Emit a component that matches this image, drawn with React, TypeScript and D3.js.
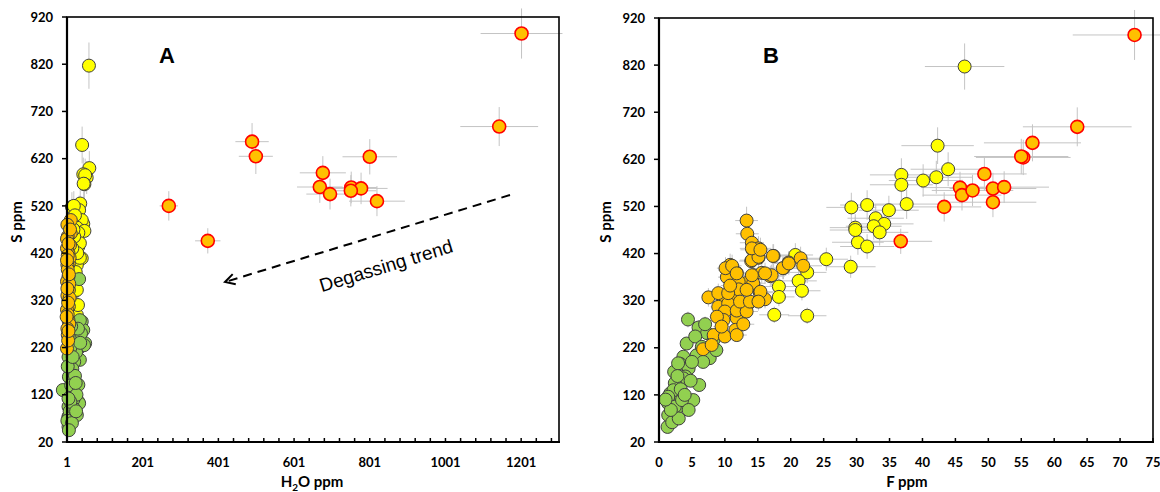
import React from "react";
import * as d3 from "d3";

// ---------- DATA ----------
// Panel A: [H2O ppm, S ppm]
const redA: [number, number][] = [
  [1202, 885], [1143, 688], [490, 656], [500, 625], [801, 624], [677, 590], [669, 560],
  [752, 559], [778, 557], [751, 552], [696, 545], [820, 530], [270, 520], [373, 446],
];
const yellowA: [number, number][] = [
  [59, 817], [41, 649], [60, 600], [44, 587], [53, 580], [49, 585], [47, 566], [45, 567],
  [36, 525], [14, 518], [33, 511], [19, 520], [44, 482], [40, 490], [27, 474], [47, 467],
  [31, 463], [31, 434], [40, 409], [27, 395], [22, 340], [35, 441], [35, 410], [27, 342],
  [27, 289], [20, 455], [28, 420], [24, 380], [30, 310], [22, 500], [18, 470], [15, 430],
];
const greenA: [number, number][] = [
  [33, 365], [40, 275], [44, 257], [49, 229], [31, 218], [35, 194], [9, 183], [9, 155],
  [1, 130], [31, 105], [9, 98], [5, 74], [5, 52], [27, 77], [35, 278], [46, 225], [27, 232],
  [5, 200], [6, 158], [5, 123], [5, 95], [31, 141], [33, 102], [5, 72], [-10, 130], [38, 250],
  [30, 260], [25, 210], [20, 190], [15, 175], [10, 220], [8, 240], [22, 160], [12, 140],
  [18, 110], [8, 85], [2, 65], [14, 60], [6, 45], [20, 90], [26, 120], [10, 105], [3, 180],
  [16, 200], [24, 145], [12, 265], [36, 230], [25, 85], [5, 112],
];
const orangeA: [number, number][] = [
  [11, 490], [11, 462], [9, 437], [5, 420], [6, 398], [5, 370], [6, 342], [5, 321], [6, 307],
  [5, 278], [3, 247], [1, 218], [2, 480], [3, 455], [1, 430], [8, 410], [2, 395], [3, 385],
  [1, 360], [7, 355], [2, 330], [8, 325], [1, 300], [3, 290], [7, 270], [2, 260], [4, 235],
  [1, 450], [5, 440], [9, 470], [3, 415], [6, 375], [2, 345], [4, 315], [0, 285], [5, 255],
  [1, 405],
];

// Panel B: [F ppm, S ppm]
const redB: [number, number][] = [
  [72.2, 884], [63.5, 689], [56.7, 655], [55.3, 624], [55.0, 626], [49.4, 589], [45.7, 560],
  [46.0, 544], [47.6, 554], [50.7, 558], [52.4, 561], [50.7, 529], [43.3, 519], [36.7, 446],
];
const yellowB: [number, number][] = [
  [46.4, 817], [42.3, 649], [43.9, 599], [42.1, 582], [40.1, 575], [36.8, 587], [36.8, 566],
  [37.6, 525], [31.6, 523], [29.2, 518], [34.9, 512], [32.9, 495], [34.2, 483], [32.6, 478],
  [29.8, 475], [33.5, 465], [30.2, 444], [31.6, 435], [29.1, 392], [25.4, 408], [20.7, 417],
  [22.5, 380], [21.2, 362], [21.7, 341], [18.2, 350], [18.2, 328], [17.5, 290], [22.5, 288],
  [29.8, 470],
];
const greenB: [number, number][] = [
  [4.4, 280], [6.0, 263], [4.2, 229], [5.7, 204], [7.7, 198], [3.7, 201], [3.2, 186], [4.5, 176],
  [2.3, 169], [4.0, 159], [2.7, 137], [1.7, 123], [5.2, 109], [6.1, 141], [1.4, 102], [2.2, 77],
  [1.3, 52], [3.2, 116], [2.9, 95], [7.3, 251], [8.3, 237], [8.7, 215], [5.5, 244], [6.7, 190],
  [2.9, 187], [3.7, 155], [2.4, 145], [2.2, 130], [1.4, 116], [2.4, 95], [1.4, 77], [3.5, 109],
  [4.5, 88], [2.0, 62], [3.0, 70], [1.8, 88], [3.3, 132], [4.8, 150], [2.8, 160], [3.9, 120],
  [1.0, 110], [6.5, 222], [7.0, 270], [5.0, 190],
];
const orangeB: [number, number][] = [
  [13.3, 490], [13.4, 462], [14.1, 443], [14.2, 428], [15.1, 431], [14.0, 404], [15.1, 411],
  [17.4, 415], [18.9, 389], [19.7, 401], [10.8, 396], [10.3, 385], [10.3, 370], [11.8, 379],
  [14.4, 374], [15.6, 379], [16.9, 372], [13.1, 357], [12.1, 360], [14.3, 357], [7.5, 327],
  [9.8, 323], [11.1, 334], [12.1, 344], [15.3, 337], [16.1, 323], [9.0, 307], [10.5, 314],
  [12.1, 300], [13.6, 314], [10.0, 297], [9.8, 279], [11.8, 283], [9.0, 336], [10.5, 336],
  [8.8, 286], [8.3, 247], [6.7, 217], [8.0, 226], [10.0, 244], [11.6, 258], [11.8, 247],
  [11.8, 299], [13.3, 297], [12.3, 318], [13.8, 318], [13.3, 343], [15.4, 339], [15.1, 318],
  [14.1, 374], [17.1, 374], [16.1, 378], [10.1, 389], [11.1, 394], [11.8, 378], [14.1, 406],
  [15.1, 413], [14.1, 431], [15.4, 428], [17.3, 415], [18.8, 389], [19.7, 399], [21.5, 410],
  [21.9, 394], [9.5, 265], [12.8, 270], [10.8, 352],
];

const yTicks = [20, 120, 220, 320, 420, 520, 620, 720, 820, 920];
const xTicksA = [1, 201, 401, 601, 801, 1001, 1201];
const xTicksB = [0, 5, 10, 15, 20, 25, 30, 35, 40, 45, 50, 55, 60, 65, 70, 75];

// relative analytical uncertainties (fraction of value)
const ERR_H2O = 0.09;
const ERR_F = 0.13;
const ERR_S = 0.06;

// ---------- STYLE ----------
const GREEN = "#92D050";
const YELLOW = "#FFFF00";
const ORANGE = "#FFC000";
const RED = "#FF0000";
const DARK = "#404040";
const ERRC = "#c4c4c4";
const R = 6.5;
const tickFont = "Lato, 'Open Sans', sans-serif";

type Pt = [number, number];
type Group = { pts: Pt[]; fill: string; stroke: string; sw: number };

function Panel(props: {
  x0: number; x1: number; y0: number; y1: number;
  xDomain: [number, number]; xTicks: number[]; minorStep: number;
  xErr: number; groups: Group[]; letter: string; letterX: number;
  yTitleX: number; xTitle: React.ReactNode; xTitleX: number;
}) {
  const { x0, x1, y0, y1, xDomain, xTicks, minorStep, xErr, groups } = props;
  const x = d3.scaleLinear().domain(xDomain).range([x0, x1]);
  const y = d3.scaleLinear().domain([20, 920]).range([y1, y0]);
  const minor = d3.range(xDomain[0], xDomain[1] + 1e-9, minorStep);
  return (
    <g>
      {groups.map((g, gi) =>
        g.pts.map((p, i) => (
          <g key={`e${gi}-${i}`} stroke={ERRC} strokeWidth={1}>
            <line x1={x(p[0] - Math.abs(p[0]) * xErr)} x2={x(p[0] + Math.abs(p[0]) * xErr)} y1={y(p[1])} y2={y(p[1])} />
            <line x1={x(p[0])} x2={x(p[0])} y1={y(p[1] - p[1] * ERR_S)} y2={y(p[1] + p[1] * ERR_S)} />
          </g>
        ))
      )}
      {groups.map((g, gi) =>
        g.pts.map((p, i) => (
          <circle key={`c${gi}-${i}`} cx={x(p[0])} cy={y(p[1])} r={R} fill={g.fill} stroke={g.stroke} strokeWidth={g.sw} />
        ))
      )}
      <rect x={x0} y={y0} width={x1 - x0} height={y1 - y0} fill="none" stroke="#000" strokeWidth={1.6} />
      <line x1={x0} x2={x0} y1={y0} y2={y1 + 1} stroke="#000" strokeWidth={2.2} />
      <line x1={x0 - 1} x2={x1 + 1} y1={y1} y2={y1} stroke="#000" strokeWidth={2.2} />
      {yTicks.map((t) => (
        <g key={`y${t}`}>
          <line x1={x0 - 5} x2={x0} y1={y(t)} y2={y(t)} stroke="#000" strokeWidth={1.5} />
          <text x={x0 - 14} y={y(t)} dy="0.36em" textAnchor="end" fontFamily={tickFont} fontWeight={700} fontSize={13}>{t}</text>
        </g>
      ))}
      {minor.map((t) => (
        <line key={`m${t}`} x1={x(t)} x2={x(t)} y1={y1} y2={y1 - 4} stroke="#000" strokeWidth={1.5} />
      ))}
      {xTicks.map((t) => (
        <text key={`x${t}`} x={x(t)} y={467} textAnchor="middle" fontFamily={tickFont} fontWeight={700} fontSize={13}>{t}</text>
      ))}
      <text transform={`translate(${props.yTitleX},222) rotate(-90)`} textAnchor="middle" fontFamily={tickFont} fontWeight={700} fontSize={15}>S ppm</text>
      <text x={props.xTitleX} y={487} textAnchor="middle" fontFamily={tickFont} fontWeight={700} fontSize={15}>{props.xTitle}</text>
      <text x={props.letterX} y={63} textAnchor="middle" fontFamily="'Liberation Sans', Arial, sans-serif" fontWeight={700} fontSize={22}>{props.letter}</text>
    </g>
  );
}

export default function App() {
  const grpA: Group[] = [
    { pts: yellowA, fill: YELLOW, stroke: DARK, sw: 1 },
    { pts: greenA, fill: GREEN, stroke: DARK, sw: 1 },
    { pts: orangeA, fill: ORANGE, stroke: DARK, sw: 1 },
    { pts: redA, fill: ORANGE, stroke: RED, sw: 1.6 },
  ];
  const grpB: Group[] = [
    { pts: yellowB, fill: YELLOW, stroke: DARK, sw: 1 },
    { pts: greenB, fill: GREEN, stroke: DARK, sw: 1 },
    { pts: orangeB, fill: ORANGE, stroke: DARK, sw: 1 },
    { pts: redB, fill: ORANGE, stroke: RED, sw: 1.6 },
  ];
  const ax0 = 510, ay0 = 195, ax1 = 225, ay1 = 282;
  const ang = Math.atan2(ay0 - ay1, ax0 - ax1);
  const wing = 11;
  const w1 = [ax1 + wing * Math.cos(ang + 0.5), ay1 + wing * Math.sin(ang + 0.5)];
  const w2 = [ax1 + wing * Math.cos(ang - 0.5), ay1 + wing * Math.sin(ang - 0.5)];
  return (
    <svg width={1160} height={492} style={{ position: "absolute", left: 0, top: 0, background: "#fff" }}>
      <rect width={1160} height={492} fill="#fff" />
      <Panel x0={67} x1={559} y0={17} y1={442} xDomain={[1, 1301]} xTicks={xTicksA} minorStep={40}
        xErr={ERR_H2O} groups={grpA} letter="A" letterX={167} yTitleX={22}
        xTitle={<>H<tspan fontSize={10} dy={4}>2</tspan><tspan dy={-4}>O ppm</tspan></>} xTitleX={312} />
      <Panel x0={659} x1={1153} y0={18} y1={442} xDomain={[0, 75]} xTicks={xTicksB} minorStep={5}
        xErr={ERR_F} groups={grpB} letter="B" letterX={771} yTitleX={611}
        xTitle="F ppm" xTitleX={907} />
      <line x1={ax0} y1={ay0} x2={ax1 + 3 * Math.cos(ang)} y2={ay1 + 3 * Math.sin(ang)} stroke="#000" strokeWidth={2} strokeDasharray="9,6" />
      <polyline points={`${w1[0]},${w1[1]} ${ax1},${ay1} ${w2[0]},${w2[1]}`} fill="none" stroke="#000" strokeWidth={2} />
      <text transform={`translate(388,272) rotate(-17)`} textAnchor="middle" fontFamily="'Liberation Sans', Arial, sans-serif" fontSize={19}>Degassing trend</text>
    </svg>
  );
}
